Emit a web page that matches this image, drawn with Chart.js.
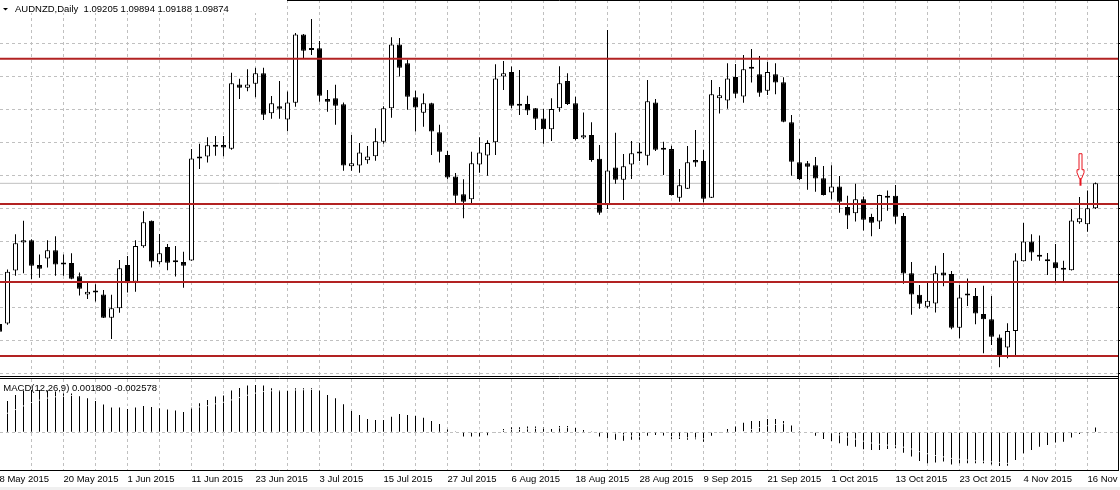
<!DOCTYPE html>
<html>
<head>
<meta charset="utf-8">
<title>AUDNZD Daily</title>
<script src="https://cdn.jsdelivr.net/npm/chart.js@4.4.1/dist/chart.umd.min.js"></script>
<style>
  html, body { margin: 0; padding: 0; background: #ffffff; }
  #wrap { position: relative; width: 1120px; height: 490px; overflow: hidden; background: #ffffff; }
  #priceChart { position: absolute; left: 0; top: 0; }
  #macdChart { position: absolute; left: 0; top: 377px; }
  #strip { position: absolute; left: 0; top: 487px; width: 1120px; height: 3px; background: #f0f0f0; }
</style>
</head>
<body>
<div id="wrap">
  <canvas id="priceChart" width="1120" height="377"></canvas>
  <canvas id="macdChart" width="1119" height="113"></canvas>
  <div id="strip"></div>
</div>
<script>
// AUDNZD daily bars, index 0 = 8 May 2015
var symbol = 'AUDNZD,Daily';

var open = [1.0611, 1.0612, 1.0754, 1.0829, 1.0835, 1.0769, 1.0786, 1.0808, 1.0774, 1.0774,
  1.0739, 1.0690, 1.0699, 1.0690, 1.0628, 1.0653, 1.0769, 1.0724, 1.0819, 1.0887,
  1.0776, 1.0817, 1.0779, 1.0777, 1.0781, 1.1054, 1.1059, 1.1090, 1.1090, 1.1080,
  1.1252, 1.1243, 1.1254, 1.1282, 1.1175, 1.1194, 1.1158, 1.1203, 1.1386, 1.1349,
  1.1349, 1.1213, 1.1215, 1.1199, 1.1033, 1.1035, 1.1049, 1.1060, 1.1099, 1.1188,
  1.1359, 1.1309, 1.1218, 1.1176, 1.1202, 1.1124, 1.1063, 1.1006, 1.0958, 1.0945,
  1.1038, 1.1062, 1.1097, 1.1273, 1.1285, 1.1200, 1.1200, 1.1188, 1.1161, 1.1132,
  1.1188, 1.1261, 1.1202, 1.1110, 1.1117, 1.1053, 1.0929, 1.1030, 1.0997, 1.1038,
  1.1072, 1.1061, 1.1204, 1.1081, 1.1079, 1.0949, 1.0973, 1.1050, 1.1047, 1.0949,
  1.1215, 1.1209, 1.1272, 1.1220, 1.1299, 1.1279, 1.1235, 1.1279, 1.1258, 1.1151,
  1.1044, 1.1041, 1.1036, 1.1001, 1.0963, 1.0979, 1.0924, 1.0907, 1.0945, 1.0897,
  1.0885, 1.0953, 1.0954, 1.0900, 1.0747, 1.0689, 1.0657, 1.0666, 1.0749, 1.0745,
  1.0601, 1.0691, 1.0686, 1.0638, 1.0624, 1.0575, 1.0548, 1.0592, 1.0779, 1.0832,
  1.0794, 1.0779, 1.0776, 1.0760, 1.0755, 1.0883, 1.0878, 1.09205];

var high = [1.0622, 1.0757, 1.0851, 1.0887, 1.0838, 1.0797, 1.0835, 1.0846, 1.0797, 1.0800,
  1.0749, 1.0724, 1.0717, 1.0702, 1.0689, 1.0782, 1.0793, 1.0835, 1.0913, 1.0888,
  1.0852, 1.0825, 1.0820, 1.0804, 1.1079, 1.1093, 1.1111, 1.1114, 1.1114, 1.1283,
  1.1267, 1.1293, 1.1297, 1.1297, 1.1221, 1.1261, 1.1233, 1.1390, 1.1387, 1.1427,
  1.1368, 1.1237, 1.1251, 1.1204, 1.1117, 1.1095, 1.1087, 1.1135, 1.1194, 1.1378,
  1.1376, 1.1318, 1.1235, 1.1228, 1.1203, 1.1144, 1.1074, 1.1015, 1.0998, 1.1072,
  1.1111, 1.1103, 1.1306, 1.1315, 1.1300, 1.1291, 1.1222, 1.1189, 1.1186, 1.1215,
  1.1301, 1.1282, 1.1219, 1.1177, 1.1151, 1.1090, 1.1398, 1.1123, 1.1066, 1.1101,
  1.1096, 1.1264, 1.1213, 1.1099, 1.1088, 1.1026, 1.1087, 1.1130, 1.1077, 1.1264,
  1.1245, 1.1309, 1.1307, 1.1331, 1.1347, 1.1328, 1.1312, 1.1309, 1.1271, 1.1170,
  1.1106, 1.1047, 1.1058, 1.1034, 1.1036, 1.1007, 1.0954, 1.0986, 1.0952, 1.0906,
  1.0957, 1.0968, 1.0983, 1.0908, 1.0777, 1.0715, 1.0723, 1.0767, 1.0801, 1.0753,
  1.0715, 1.0733, 1.0707, 1.0713, 1.0686, 1.0583, 1.0613, 1.0800, 1.0881, 1.0851,
  1.0848, 1.0801, 1.0825, 1.0780, 1.0919, 1.0951, 1.0968, 1.09894];

var low = [1.0584, 1.0609, 1.0740, 1.0747, 1.0731, 1.0735, 1.0762, 1.0740, 1.0740, 1.0731,
  1.0687, 1.0678, 1.0671, 1.0627, 1.0571, 1.0641, 1.0695, 1.0697, 1.0815, 1.0762,
  1.0771, 1.0755, 1.0738, 1.0708, 1.0780, 1.1026, 1.1043, 1.1061, 1.1060, 1.1077,
  1.1213, 1.1234, 1.1218, 1.1157, 1.1160, 1.1160, 1.1127, 1.1192, 1.1322, 1.1331,
  1.1206, 1.1179, 1.1144, 1.1021, 1.1021, 1.1016, 1.1040, 1.1048, 1.1093, 1.1163,
  1.1273, 1.1184, 1.1126, 1.1139, 1.1063, 1.1043, 1.0998, 1.0934, 1.0894, 1.0934,
  1.1016, 1.1008, 1.1063, 1.1237, 1.1188, 1.1170, 1.1170, 1.1130, 1.1093, 1.1101,
  1.1179, 1.1197, 1.1103, 1.1106, 1.1045, 1.0903, 1.0919, 1.0986, 1.0943, 1.0999,
  1.1047, 1.1036, 1.1074, 1.1010, 1.0955, 1.0938, 1.0972, 1.1032, 1.0936, 1.0948,
  1.1174, 1.1187, 1.1216, 1.1203, 1.1257, 1.1219, 1.1224, 1.1226, 1.1151, 1.1008,
  1.0996, 1.0970, 1.0965, 1.0955, 1.0945, 1.0909, 1.0865, 1.0885, 1.0861, 1.0846,
  1.0865, 1.0914, 1.0879, 1.0719, 1.0636, 1.0652, 1.0653, 1.0642, 1.0712, 1.0597,
  1.0573, 1.0659, 1.0610, 1.0533, 1.0555, 1.0495, 1.0519, 1.0528, 1.0778, 1.0780,
  1.0780, 1.0742, 1.0726, 1.0726, 1.0754, 1.0879, 1.0858, 1.09188];

var close = [1.0590, 1.0751, 1.0827, 1.0835, 1.0767, 1.0759, 1.0808, 1.0770, 1.0770, 1.0732,
  1.0705, 1.0697, 1.0695, 1.0628, 1.0653, 1.0760, 1.0720, 1.0820, 1.0883, 1.0778,
  1.0800, 1.0775, 1.0776, 1.0767, 1.1054, 1.1055, 1.1089, 1.1085, 1.1083, 1.1255,
  1.1243, 1.1252, 1.1282, 1.1171, 1.1202, 1.1187, 1.1204, 1.1386, 1.1342, 1.1344,
  1.1222, 1.1206, 1.1195, 1.1035, 1.1041, 1.1070, 1.1059, 1.1100, 1.1188, 1.1359,
  1.1297, 1.1219, 1.1190, 1.1202, 1.1126, 1.1072, 1.1003, 1.0954, 1.0938, 1.1041,
  1.1070, 1.1095, 1.1268, 1.1282, 1.1195, 1.1195, 1.1182, 1.1160, 1.1132, 1.1186,
  1.1255, 1.1200, 1.1106, 1.1116, 1.1050, 1.0909, 1.1022, 1.0997, 1.1033, 1.1068,
  1.1067, 1.1207, 1.1077, 1.1077, 1.0956, 1.0982, 1.1044, 1.1043, 1.0946, 1.1226,
  1.1223, 1.1268, 1.1227, 1.1293, 1.1294, 1.1230, 1.1285, 1.1257, 1.1152, 1.1045,
  1.0999, 1.1032, 1.1000, 1.0956, 1.0979, 1.0938, 1.0901, 1.0945, 1.0890, 1.0882,
  1.0956, 1.0949, 1.0898, 1.0746, 1.0690, 1.0665, 1.0673, 1.0747, 1.0741, 1.0601,
  1.0682, 1.0687, 1.0639, 1.0624, 1.0577, 1.0528, 1.0592, 1.0781, 1.0832, 1.0802,
  1.0791, 1.0784, 1.0760, 1.0756, 1.0888, 1.0894, 1.0921, 1.09874];

// MACD(12,26,9): main line shown as histogram, signal as line
var macd = [0.0095, 0.0120, 0.0143, 0.0160, 0.0162, 0.0162, 0.0160, 0.0156, 0.0149, 0.0149,
  0.0139, 0.0130, 0.0120, 0.0106, 0.0095, 0.0095, 0.0089, 0.0095, 0.0101, 0.0097,
  0.0092, 0.0087, 0.0083, 0.0078, 0.0095, 0.0111, 0.0124, 0.0137, 0.0141, 0.0160,
  0.0170, 0.0179, 0.0181, 0.0179, 0.0169, 0.0162, 0.0162, 0.0169, 0.0169, 0.0169,
  0.0160, 0.0143, 0.0130, 0.0107, 0.0082, 0.0066, 0.0051, 0.0047, 0.0047, 0.0060,
  0.0070, 0.0066, 0.0062, 0.0056, 0.0043, 0.0032, 0.0011, 0.0003, -0.0016, -0.0016,
  -0.0016, -0.0011, -0.0001, 0.0013, 0.0019, 0.0019, 0.0022, 0.0022, 0.0019, 0.0013,
  0.0024, 0.0024, 0.0019, 0.0009, 0.0001, -0.0016, -0.0023, -0.0029, -0.0032, -0.0029,
  -0.0029, -0.0013, -0.0010, -0.0013, -0.0026, -0.0026, -0.0029, -0.0027, -0.0036, -0.0013,
  -0.0001, 0.0013, 0.0022, 0.0037, 0.0043, 0.0043, 0.0051, 0.0051, 0.0043, 0.0026,
  0.0004, 0.0000, -0.0013, -0.0026, -0.0033, -0.0042, -0.0052, -0.0055, -0.0065, -0.0068,
  -0.0068, -0.0064, -0.0061, -0.0078, -0.0093, -0.0110, -0.0119, -0.0116, -0.0112, -0.0123,
  -0.0119, -0.0119, -0.0119, -0.0119, -0.0123, -0.0129, -0.0128, -0.0106, -0.0080, -0.0068,
  -0.0055, -0.0049, -0.0039, -0.0036, -0.0020, -0.0007, -0.0001, 0.0018];

var signal = [0.0065, 0.0073, 0.0087, 0.0101, 0.0114, 0.0123, 0.0131, 0.0136, 0.0138, 0.0141,
  0.0140, 0.0138, 0.0134, 0.0129, 0.0122, 0.0116, 0.0111, 0.0108, 0.0106, 0.0104,
  0.0102, 0.0099, 0.0096, 0.0092, 0.0093, 0.0097, 0.0102, 0.0109, 0.0115, 0.0124,
  0.0133, 0.0142, 0.0150, 0.0156, 0.0159, 0.0159, 0.0160, 0.0162, 0.0163, 0.0164,
  0.0164, 0.0159, 0.0154, 0.0144, 0.0132, 0.0119, 0.0105, 0.0094, 0.0085, 0.0080,
  0.0078, 0.0075, 0.0073, 0.0069, 0.0064, 0.0058, 0.0049, 0.0039, 0.0028, 0.0020,
  0.0012, 0.0008, 0.0006, 0.0007, 0.0010, 0.0011, 0.0013, 0.0015, 0.0016, 0.0015,
  0.0017, 0.0018, 0.0019, 0.0017, 0.0013, 0.0008, 0.0002, -0.0005, -0.0010, -0.0014,
  -0.0017, -0.0016, -0.0015, -0.0015, -0.0017, -0.0018, -0.0021, -0.0022, -0.0025, -0.0022,
  -0.0018, -0.0012, -0.0005, 0.0003, 0.0011, 0.0018, 0.0025, 0.0030, 0.0033, 0.0031,
  0.0026, 0.0021, 0.0014, 0.0006, -0.0002, -0.0010, -0.0018, -0.0026, -0.0034, -0.0041,
  -0.0046, -0.0049, -0.0052, -0.0057, -0.0064, -0.0074, -0.0082, -0.0089, -0.0094, -0.0100,
  -0.0103, -0.0106, -0.0109, -0.0111, -0.0113, -0.0116, -0.0119, -0.0116, -0.0109, -0.0101,
  -0.0092, -0.0083, -0.0074, -0.0067, -0.0057, -0.0047, -0.0038, -0.002578];

// time scale labels, one every 8 bars
var dateLabels = ['8 May 2015', '20 May 2015', '1 Jun 2015', '11 Jun 2015', '23 Jun 2015',
  '3 Jul 2015', '15 Jul 2015', '27 Jul 2015', '6 Aug 2015', '18 Aug 2015', '28 Aug 2015',
  '9 Sep 2015', '21 Sep 2015', '1 Oct 2015', '13 Oct 2015', '23 Oct 2015', '4 Nov 2015', '16 Nov 2015'];

// price grid levels and the drawn horizontal lines
var gridPrices = [1.13621, 1.12738, 1.11855, 1.10972, 1.10089, 1.09206, 1.08323, 1.07440, 1.06557, 1.05674, 1.04791];
var levels = [1.13209, 1.09321, 1.07234, 1.05253];
var arrowBar = 135;
var arrowPrice = 1.0981;

var FONT = '"Liberation Sans", Arial, sans-serif';
Chart.defaults.font.family = FONT;
Chart.defaults.font.size = 9.5;
Chart.defaults.color = '#000';
Chart.defaults.animation = false;
Chart.defaults.plugins.legend.display = false;
Chart.defaults.plugins.tooltip.enabled = false;

var xMin = 0.0625, xMax = 139.8125;
var last = close.length - 1;
var idx = close.map(function (c, i) { return i; });
var gridIdx = idx.filter(function (i) { return i % 4 === 0; });

function hline(ctx, x0, x1, y) { ctx.beginPath(); ctx.moveTo(x0, y); ctx.lineTo(x1, y); ctx.stroke(); }
function vline(ctx, x, y0, y1) { ctx.beginPath(); ctx.moveTo(x, y0); ctx.lineTo(x, y1); ctx.stroke(); }
function flatLine(v) { return [{ x: xMin, y: v }, { x: xMax, y: v }]; }

var gridStyle = { color: '#c0c0c0', lineWidth: 1, drawTicks: false, offset: false };
var borderStyle = { display: false, dash: [3, 3] };

var priceFrame = {
  id: 'priceFrame',
  afterDatasetsDraw: function (chart) {
    var ctx = chart.ctx;
    var cx = chart.scales.x.getPixelForValue(arrowBar) + 1;
    var t = chart.scales.y.getPixelForValue(arrowPrice);
    ctx.save();
    ctx.strokeStyle = '#e8141e';
    ctx.fillStyle = '#e8141e';
    ctx.lineWidth = 1;
    ctx.beginPath();
    ctx.moveTo(cx - 1.5, t - 32);
    ctx.lineTo(cx + 1.5, t - 32);
    ctx.lineTo(cx + 1.5, t - 16);
    ctx.lineTo(cx + 3.5, t - 16);
    ctx.lineTo(cx + 3.5, t - 13);
    ctx.lineTo(cx + 1, t - 7);
    ctx.lineTo(cx - 1, t - 7);
    ctx.lineTo(cx - 3.5, t - 13);
    ctx.lineTo(cx - 3.5, t - 16);
    ctx.lineTo(cx - 1.5, t - 16);
    ctx.closePath();
    ctx.stroke();
    ctx.fillRect(cx - 1, t - 7, 2, 7);
    ctx.restore();
  },
  afterDraw: function (chart) {
    var ctx = chart.ctx, a = chart.chartArea, ys = chart.scales.y;
    ctx.save();
    ctx.strokeStyle = '#000';
    ctx.lineWidth = 1;
    hline(ctx, 0, a.right + 1, 0.5);
    hline(ctx, 0, a.right + 1, a.bottom + 0.5);
    vline(ctx, a.right + 0.5, 0, a.bottom + 1);
    gridPrices.forEach(function (p) {
      var py = Math.round(ys.getPixelForValue(p) - 0.5) + 0.5;
      hline(ctx, a.right + 1, chart.width, py);
    });
    // header
    ctx.fillStyle = '#fff';
    ctx.fillRect(0, 0, 287, 13);
    ctx.fillStyle = '#000';
    ctx.beginPath();
    ctx.moveTo(3, 8); ctx.lineTo(8, 8); ctx.lineTo(5.5, 10.5);
    ctx.closePath();
    ctx.fill();
    ctx.font = '9.5px ' + FONT;
    ctx.textBaseline = 'alphabetic';
    var head = symbol + '  ' + [open, high, low, close].map(function (s) { return s[last].toFixed(5); }).join(' ');
    ctx.fillText(head, 15, 11.7);
    ctx.restore();
  }
};

var macdFrame = {
  id: 'macdFrame',
  afterDraw: function (chart) {
    var ctx = chart.ctx, a = chart.chartArea;
    ctx.save();
    ctx.strokeStyle = '#000';
    ctx.lineWidth = 1;
    hline(ctx, 0, a.right + 1, a.top - 0.5);
    hline(ctx, 0, a.right + 1, a.bottom + 0.5);
    vline(ctx, a.right + 0.5, 0, a.bottom + 1);
    ctx.fillStyle = '#000';
    ctx.font = '9.5px ' + FONT;
    ctx.textBaseline = 'alphabetic';
    ctx.fillText('MACD(12,26,9) ' + macd[last].toFixed(6) + ' ' + signal[last].toFixed(6), 3.3, 13.7);
    ctx.restore();
  }
};

// Price pane
new Chart(document.getElementById('priceChart'), {
  type: 'bar',
  data: {
    datasets: levels.map(function (v) {
      return { type: 'line', data: flatLine(v), borderColor: '#b22222', borderWidth: 2, pointRadius: 0, pointHoverRadius: 0, pointHitRadius: 0, order: 0 };
    }).concat([
      {
        type: 'bar',
        data: idx.map(function (i) { return { x: i, y: [open[i], close[i]] }; }),
        backgroundColor: idx.map(function (i) { return close[i] >= open[i] ? '#ffffff' : '#000000'; }),
        borderColor: '#000',
        borderWidth: 1,
        borderSkipped: false,
        grouped: false,
        maxBarThickness: 5,
        minBarLength: 2,
        inflateAmount: 0,
        order: 1
      },
      {
        type: 'bar',
        data: idx.map(function (i) { return { x: i, y: [low[i], high[i]] }; }),
        backgroundColor: '#000',
        borderWidth: 0,
        grouped: false,
        maxBarThickness: 1,
        inflateAmount: 0,
        order: 2
      },
      { type: 'line', data: flatLine(close[last]), borderColor: '#c0c0c0', borderWidth: 1, pointRadius: 0, pointHoverRadius: 0, pointHitRadius: 0, order: 3 }
    ])
  },
  options: {
    responsive: false,
    events: [],
    layout: { autoPadding: false, padding: { left: 0, right: 2, top: 0, bottom: 1 } },
    scales: {
      x: {
        type: 'linear', min: xMin, max: xMax, offset: false,
        afterBuildTicks: function (s) { s.ticks = gridIdx.map(function (v) { return { value: v }; }); },
        afterFit: function (s) { s.height = 0; s.paddingLeft = 0; s.paddingRight = 0; },
        ticks: { display: false },
        grid: gridStyle, border: borderStyle
      },
      y: {
        type: 'linear', min: 1.04718, max: 1.1478,
        afterBuildTicks: function (s) { s.ticks = gridPrices.map(function (v) { return { value: v }; }); },
        afterFit: function (s) { s.width = 0; },
        ticks: { display: false },
        grid: gridStyle, border: borderStyle
      }
    }
  },
  plugins: [priceFrame]
});

// MACD pane with time scale
new Chart(document.getElementById('macdChart'), {
  type: 'bar',
  data: {
    datasets: [
      {
        type: 'line',
        data: idx.map(function (i) { return { x: i, y: signal[i] }; }),
        borderColor: '#ffffff', borderWidth: 1, pointRadius: 0, pointHoverRadius: 0, pointHitRadius: 0, tension: 0, order: 0
      },
      {
        type: 'bar',
        data: idx.map(function (i) { return { x: i, y: macd[i] }; }),
        backgroundColor: '#000', borderWidth: 0, grouped: false, maxBarThickness: 1, inflateAmount: 0, order: 1
      }
    ]
  },
  options: {
    responsive: false,
    events: [],
    layout: { autoPadding: false, padding: { left: 0, right: 1, top: 2, bottom: 0 } },
    scales: {
      x: {
        type: 'linear', min: xMin, max: xMax, offset: false,
        afterBuildTicks: function (s) { s.ticks = gridIdx.map(function (v) { return { value: v }; }); },
        afterFit: function (s) { s.height = 20; s.paddingLeft = 0; s.paddingRight = 0; },
        ticks: {
          display: true, autoSkip: false, maxRotation: 0, minRotation: 0, align: 'start', padding: 4,
          color: '#000', font: { family: FONT, size: 9.5 },
          callback: function (v) { return v % 8 === 0 ? dateLabels[v / 8] : ''; }
        },
        grid: gridStyle, border: borderStyle
      },
      y: {
        type: 'linear', min: -0.01444, max: 0.02041,
        afterBuildTicks: function (s) { s.ticks = [{ value: 0 }]; },
        afterFit: function (s) { s.width = 0; },
        ticks: { display: false },
        grid: gridStyle, border: borderStyle
      }
    }
  },
  plugins: [macdFrame]
});
</script>
</body>
</html>
